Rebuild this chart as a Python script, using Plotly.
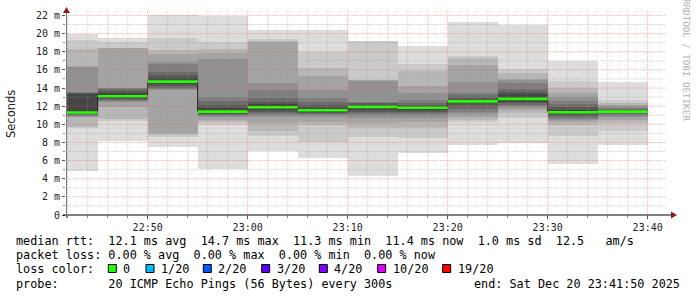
import plotly.graph_objects as go
from datetime import datetime, timedelta

# ---------------- data ----------------
day = "2025-12-20"
block_end = ["22:45", "22:50", "22:55", "23:00", "23:05", "23:10",
             "23:15", "23:20", "23:25", "23:30", "23:35", "23:40"]
medians = [11.3, 13.1, 14.7, 11.4, 11.875, 11.55, 11.925, 11.825, 12.525, 12.8, 11.325, 11.4]

# sorted ping RTTs (ms), 20 pings per 5-minute step
smoke_2245 = [4.8, 9.6, 9.7, 10.8, 10.85, 10.9, 11.0, 11.1, 11.2, 11.25, 11.35, 13.3, 13.4, 13.5, 13.6, 16.3, 16.4, 18.3, 19.3, 20.0]
smoke_2250 = [8.2, 10.4, 10.6, 11.9, 12.5, 12.6, 12.7, 12.8, 12.9, 13.0, 13.2, 13.5, 13.7, 13.85, 13.95, 14.05, 18.4, 18.45, 19.1, 19.5]
smoke_2255 = [7.5, 8.65, 8.8, 9.0, 13.8, 13.9, 14.0, 14.2, 14.4, 14.6, 14.8, 15.1, 15.45, 15.8, 16.7, 16.9, 17.8, 18.2, 19.5, 22.05]
smoke_2300 = [5.1, 9.95, 10.3, 10.5, 10.8, 10.9, 11.0, 11.1, 11.2, 11.35, 11.45, 11.8, 12.1, 12.6, 13.0, 17.2, 17.9, 18.3, 19.1, 21.9]
smoke_2305 = [7.1, 8.7, 9.3, 10.1, 10.8, 11.0, 11.2, 11.4, 11.6, 11.8, 11.95, 12.2, 12.5, 12.9, 13.8, 14.6, 19.1, 19.15, 19.4, 20.4]
smoke_2310 = [6.3, 8.1, 9.9, 10.3, 10.85, 11.0, 11.1, 11.2, 11.4, 11.5, 11.6, 11.8, 12.1, 12.5, 12.9, 13.8, 15.3, 16.2, 18.0, 20.35]
smoke_2315 = [4.35, 8.65, 9.6, 10.1, 10.7, 11.0, 11.2, 11.4, 11.6, 11.85, 12.0, 12.1, 12.3, 12.4, 12.5, 14.8, 14.85, 14.9, 19.15, 19.2]
smoke_2320 = [6.8, 8.5, 9.6, 10.2, 10.7, 11.0, 11.2, 11.4, 11.6, 11.75, 11.9, 12.0, 12.1, 12.4, 12.7, 13.5, 14.2, 15.9, 16.7, 18.6]
smoke_2325 = [7.7, 10.3, 10.5, 10.85, 11.1, 11.4, 11.7, 12.0, 12.3, 12.45, 12.6, 12.7, 12.9, 13.2, 13.5, 14.7, 16.5, 17.3, 17.55, 21.25]
smoke_2330 = [7.9, 10.7, 11.2, 11.6, 11.8, 12.0, 12.1, 12.3, 12.5, 12.7, 12.9, 13.3, 13.6, 13.9, 14.6, 14.9, 15.0, 15.7, 16.1, 20.95]
smoke_2335 = [5.65, 8.7, 9.95, 10.2, 10.5, 10.6, 10.8, 10.9, 11.1, 11.25, 11.4, 11.6, 11.9, 12.2, 12.6, 13.0, 13.4, 14.0, 14.8, 17.0]
smoke_2340 = [7.7, 9.3, 10.1, 10.5, 10.85, 10.9, 11.1, 11.2, 11.3, 11.35, 11.45, 11.5, 11.6, 11.7, 11.8, 12.0, 12.1, 12.35, 12.7, 14.7]

y_tick_vals = [0, 2, 4, 6, 8, 10, 12, 14, 16, 18, 20, 22]
y_tick_text = ["0", "2 m", "4 m", "6 m", "8 m", "10 m", "12 m", "14 m", "16 m", "18 m", "20 m", "22 m"]
x_tick_labels = ["22:50", "23:00", "23:10", "23:20", "23:30", "23:40"]

legend_line1 = "median rtt:  12.1 ms avg  14.7 ms max  11.3 ms min  11.4 ms now  1.0 ms sd  12.5   am/s"
legend_line2 = "packet loss: 0.00 % avg  0.00 % max  0.00 % min  0.00 % now"
loss_labels = ["0", "1/20", "2/20", "3/20", "4/20", "10/20", "19/20"]
loss_colors = ["#26ff00", "#00b8ff", "#0059ff", "#5e00ff", "#7e00ff", "#dd00ff", "#ff0000"]
probe_text = "20 ICMP Echo Pings (56 Bytes) every 300s"
end_text = "end: Sat Dec 20 23:41:50 2025"

smoke = [smoke_2245, smoke_2250, smoke_2255, smoke_2300, smoke_2305, smoke_2310,
         smoke_2315, smoke_2320, smoke_2325, smoke_2330, smoke_2335, smoke_2340]

# ---------------- geometry / style ----------------
W_PAGE, H_PAGE = 697, 297
L, R, T, B = 66, 31, 10, 82
PW, PH = W_PAGE - L - R, H_PAGE - T - B
MONO = "DejaVu Sans Mono"
STEP = timedelta(minutes=5)


def px(x):
    return (x - L) / PW


def py(y):
    return (T + PH - y) / PH


def ts(hm):
    return datetime.strptime(f"{day} {hm}", "%Y-%m-%d %H:%M")


ends = [ts(h) for h in block_end]
starts = [e - STEP for e in ends]
centers = [s + STEP / 2 for s in starts]
n = len(smoke[0])
half = n // 2
grays = [int(190 / half * (half - i)) + 50 for i in range(1, half + 1)]

fig = go.Figure()

# smoke bands
for i in range(1, half + 1):
    lo = [s[i - 1] for s in smoke]
    hi = [s[n - i] for s in smoke]
    g = grays[i - 1]
    fig.add_trace(go.Bar(
        x=centers, base=lo, y=[h - l for h, l in zip(hi, lo)],
        width=[STEP.total_seconds() * 1000] * len(centers),
        marker=dict(color=f"rgb({g},{g},{g})", line=dict(width=0)),
        hoverinfo="skip", showlegend=False))

# median line (dark, stepped)
fig.add_trace(go.Scatter(
    x=starts + [ends[-1]], y=medians + [medians[-1]],
    mode="lines", line=dict(color="#202020", width=1, shape="hv"),
    hoverinfo="skip", showlegend=False))

# loss-coloured median segments (all 0 loss)
gx, gy = [], []
for s, e, m in zip(starts, ends, medians):
    gx += [s, e, None]
    gy += [m, m, None]
fig.add_trace(go.Scatter(
    x=gx, y=gy, mode="lines", line=dict(color=loss_colors[0], width=2.6),
    hoverinfo="skip", showlegend=False))

x0 = ts("22:41") + timedelta(seconds=50)
x1 = ts("23:41") + timedelta(seconds=50)

shapes = []
# grid (drawn over the smoke like rrdtool)
minor_col = "rgba(150,150,150,0.45)"
major_col = "rgba(230,100,100,0.5)"
for v in range(1, 23):
    shapes.append(dict(type="line", xref="paper", yref="y", x0=0, x1=1, y0=v, y1=v,
                       line=dict(color=major_col if v % 2 == 0 else minor_col, width=1, dash="1px,1px"),
                       layer="above"))
t = ts("22:42")
while t <= x1:
    major = t.minute % 10 == 0
    shapes.append(dict(type="line", xref="x", yref="paper", x0=t, x1=t, y0=0, y1=1,
                       line=dict(color=major_col if major else minor_col, width=1, dash="1px,1px"),
                       layer="above"))
    t += timedelta(minutes=2)

# axes with arrows
shapes.append(dict(type="line", xref="paper", yref="paper", x0=px(63), x1=px(672),
                   y0=py(215), y1=py(215), line=dict(color="#000000", width=1), layer="above"))
shapes.append(dict(type="line", xref="paper", yref="paper", x0=px(66.5), x1=px(66.5),
                   y0=py(218), y1=py(10), line=dict(color="#7a7a7a", width=1), layer="above"))
arrow_col = "#8e1b1b"
shapes.append(dict(type="path", xref="paper", yref="paper",
                   path=f"M {px(671)},{py(211.5)} L {px(677)},{py(215)} L {px(671)},{py(218.5)} Z",
                   fillcolor=arrow_col, line=dict(width=0), layer="above"))
shapes.append(dict(type="path", xref="paper", yref="paper",
                   path=f"M {px(63)},{py(13)} L {px(66.5)},{py(7)} L {px(70)},{py(13)} Z",
                   fillcolor=arrow_col, line=dict(width=0), layer="above"))

# loss colour boxes
box_left = [108.3, 146.0, 203.3, 261.7, 319.3, 377.7, 442.7]
for bx, c in zip(box_left, loss_colors):
    shapes.append(dict(type="rect", xref="paper", yref="paper",
                       x0=px(bx), x1=px(bx + 8), y0=py(272.5), y1=py(264.5),
                       fillcolor=c, line=dict(color="#000000", width=1), layer="above"))

nb = lambda s: s.replace(" ", "\u00a0")
ann = []


def text(x, y, s, anchor="left", size=11.8, color="#000000", family=MONO, angle=0):
    ann.append(dict(xref="paper", yref="paper", x=px(x), y=py(y), text=nb(s),
                    xanchor=anchor, yanchor="middle", showarrow=False, textangle=angle,
                    borderpad=0, font=dict(family=family, size=size, color=color)))


text(15, 241.3, legend_line1)
text(15, 255.3, legend_line2)
text(15, 268.7, "loss color:")
for bx, lab in zip(box_left, loss_labels):
    text(bx + 14, 268.7, lab)
text(15, 283.5, "probe:" + " " * 7 + probe_text)
text(681, 283.5, end_text, anchor="right")
text(11, 114, "Seconds", anchor="center", size=11.5, color="#222222", family="DejaVu Sans", angle=-90)
text(687, 60, "RRDTOOL / TOBI OETIKER", anchor="center", size=9.2, color="#b0b0b0", angle=90)

fig.update_layout(
    width=W_PAGE, height=H_PAGE, margin=dict(l=L, r=R, t=T, b=B),
    paper_bgcolor="#ffffff", plot_bgcolor="#ffffff",
    barmode="overlay", bargap=0, showlegend=False,
    shapes=shapes, annotations=ann,
    xaxis=dict(type="date", range=[x0, x1], showgrid=False, zeroline=False, showline=False,
               tickvals=[ts(h) for h in x_tick_labels], ticktext=x_tick_labels,
               ticks="outside", ticklen=3, tickcolor="#555555",
               minor=dict(tickvals=[ts("22:42") + timedelta(minutes=2 * k) for k in range(30)],
                          ticks="outside", ticklen=2, tickcolor="#888888"),
               tickfont=dict(family=MONO, size=10, color="#222222")),
    yaxis=dict(range=[0, PH / 9.07], showgrid=False, zeroline=False, showline=False,
               tickvals=y_tick_vals, ticktext=y_tick_text,
               ticks="outside", ticklen=3, tickcolor="#555555",
               minor=dict(tickvals=list(range(1, 23, 2)), ticks="outside", ticklen=2, tickcolor="#888888"),
               tickfont=dict(family=MONO, size=10, color="#222222")),
)

fig.write_html("out.html")
